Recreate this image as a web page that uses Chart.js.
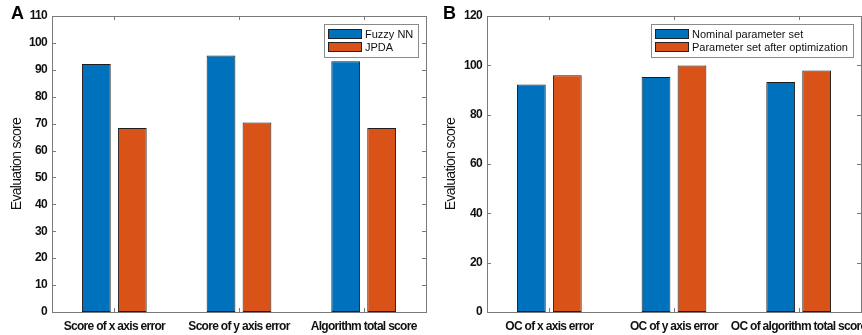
<!DOCTYPE html>
<html>
<head>
<meta charset="utf-8">
<script src="https://cdn.jsdelivr.net/npm/chart.js@4.4.1/dist/chart.umd.min.js"></script>
<style>
  html, body { margin: 0; padding: 0; background: #fff; }
  body { width: 862px; height: 335px; position: relative; overflow: hidden; }
  .panel { position: absolute; top: 0; width: 431px; height: 335px; }
  .tag { position: absolute; font-family: "Liberation Sans", Arial, sans-serif; font-weight: bold; font-size: 18px; color: #000; }
</style>
</head>
<body>
<div class="panel" style="left:0"><canvas id="cA" width="431" height="335"></canvas></div>
<div class="panel" style="left:431px"><canvas id="cB" width="431" height="335"></canvas></div>
<div class="tag" style="left:11px; top:3px;">A</div>
<div class="tag" style="left:443px; top:3px;">B</div>
<script>
// ---- data ----
const catsA = ["Score of x axis error", "Score of y axis error", "Algorithm total score"];
const fuzzyNN = [92.2, 95.3, 93.2];
const jpda = [68.4, 70.4, 68.4];
const seriesA = ["Fuzzy NN", "JPDA"];
const ticksA = [0, 10, 20, 30, 40, 50, 60, 70, 80, 90, 100, 110];

const catsB = ["OC of x axis error", "OC of y axis error", "OC of algorithm total score"];
const nominal = [92.2, 95.3, 93.2];
const optimized = [96.0, 99.9, 97.9];
const seriesB = ["Nominal parameter set", "Parameter set after optimization"];
const ticksB = [0, 20, 40, 60, 80, 100, 120];

const BLUE = "#0072BD", ORANGE = "#D95319";
const FONT = "'Liberation Sans', Arial, sans-serif";

const framePlugin = {
  id: "frame",
  beforeDraw(chart) { chart.ctx.letterSpacing = "-0.7px"; },
  afterDraw(chart) {
    const ctx = chart.ctx, a = chart.chartArea;
    ctx.save();
    ctx.letterSpacing = "0px";
    ctx.strokeStyle = "#7a7a7a";
    ctx.lineWidth = 1;
    ctx.strokeRect(Math.round(a.left) + 0.5, Math.round(a.top) + 0.5, Math.round(a.right - a.left), Math.round(a.bottom - a.top));
    const ys = chart.scales.y, xs = chart.scales.x;
    ctx.beginPath();
    ys.ticks.forEach(t => {
      const y = Math.round(ys.getPixelForValue(t.value)) + 0.5;
      ctx.moveTo(a.left, y); ctx.lineTo(a.left + 4, y);
      ctx.moveTo(a.right, y); ctx.lineTo(a.right - 4, y);
    });
    chart.data.labels.forEach((l, i) => {
      const x = Math.round(xs.getPixelForValue(i)) + 0.5;
      ctx.moveTo(x, a.bottom); ctx.lineTo(x, a.bottom - 4);
      ctx.moveTo(x, a.top); ctx.lineTo(x, a.top + 4);
    });
    ctx.stroke();
    // legend
    const ds = chart.data.datasets;
    ctx.font = "11px " + FONT;
    let tw = 0;
    ds.forEach(d => { tw = Math.max(tw, ctx.measureText(d.label).width); });
    const sw = 34, rowH = 13, pad = 4;
    const w = pad + sw + 3 + tw + 5;
    const h = pad + rowH * ds.length + 3;
    const bx = Math.round(a.right - 8 - w), by = Math.round(a.top + 8);
    ctx.fillStyle = "#fff";
    ctx.fillRect(bx, by, w, h);
    ctx.strokeStyle = "#8a8a8a";
    ctx.strokeRect(bx + 0.5, by + 0.5, Math.round(w), Math.round(h));
    ds.forEach((d, i) => {
      const ry = by + pad + 1 + i * rowH;
      ctx.fillStyle = d.backgroundColor;
      ctx.fillRect(bx + pad, ry, sw, 10);
      ctx.strokeStyle = "#222";
      ctx.strokeRect(bx + pad + 0.5, ry + 0.5, sw - 1, 9);
      ctx.fillStyle = "#111";
      ctx.textBaseline = "middle";
      ctx.textAlign = "left";
      ctx.fillText(d.label, bx + pad + sw + 3, ry + 5.5);
    });
    ctx.restore();
  }
};

function makeChart(id, cats, s1, s2, names, tickVals, yMax, yStep, layoutPad, yWidth, titlePad) {
  return new Chart(document.getElementById(id), {
    type: "bar",
    data: {
      labels: cats,
      datasets: [
        { label: names[0], data: s1, backgroundColor: BLUE, borderColor: "#1e1e1e", borderWidth: 1, borderSkipped: false },
        { label: names[1], data: s2, backgroundColor: ORANGE, borderColor: "#1e1e1e", borderWidth: 1, borderSkipped: false }
      ]
    },
    options: {
      responsive: false,
      animation: false,
      devicePixelRatio: 1,
      layout: { padding: layoutPad },
      datasets: { bar: { categoryPercentage: 0.577, barPercentage: 0.8 } },
      plugins: { legend: { display: false }, tooltip: { enabled: false } },
      scales: {
        x: {
          grid: { display: false, drawTicks: false },
          border: { display: false },
          ticks: { color: "#111", font: { family: FONT, size: 12, weight: "bold" }, padding: 7, maxRotation: 0, autoSkip: false },
          afterFit(s) { s.height = 23; s.paddingLeft = 0; s.paddingRight = 0; }
        },
        y: {
          min: 0, max: yMax,
          grid: { display: false, drawTicks: false },
          border: { display: false },
          afterBuildTicks(s) { s.ticks = tickVals.map(v => ({ value: v })); },
          ticks: { color: "#111", font: { family: FONT, size: 12, weight: "bold" }, padding: 5, stepSize: yStep },
          title: { display: true, text: "Evaluation score", color: "#111", font: { family: FONT, size: 14 }, padding: titlePad },
          afterFit(s) { s.width = yWidth; s.paddingTop = 0; s.paddingBottom = 0; }
        }
      }
    },
    plugins: [framePlugin]
  });
}

makeChart("cA", catsA, fuzzyNN, jpda, seriesA, ticksA, 110, 10, { top: 16, right: 5, left: 0, bottom: 0 }, 52, { top: 9, bottom: 0 });
makeChart("cB", catsB, nominal, optimized, seriesB, ticksB, 120, 20, { top: 16, right: 1, left: 0, bottom: 0 }, 56, { top: 12, bottom: 0 });
</script>
</body>
</html>
